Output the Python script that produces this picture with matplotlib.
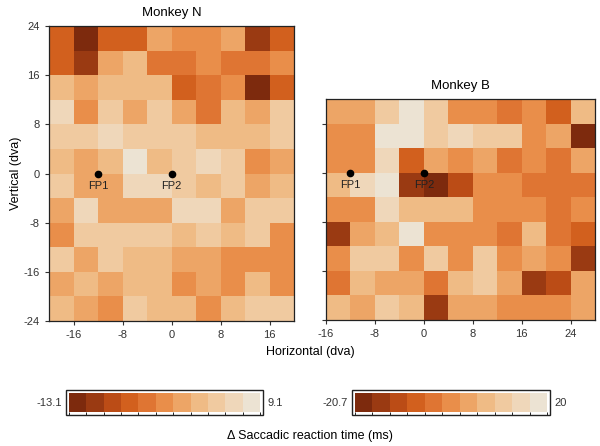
import numpy as np
import matplotlib; matplotlib.use("Agg")
import matplotlib.pyplot as plt
from matplotlib.colors import ListedColormap, BoundaryNorm
from matplotlib.patches import Rectangle

plt.rcParams["font.family"] = ["Liberation Sans", "DejaVu Sans"]
plt.rcParams["axes.unicode_minus"] = False

# --- data: delta saccadic RT (ms), rows from top (y high) to bottom ---
n_x_edges = [-20, -16, -12, -8, -4, 0, 4, 8, 12, 16, 20]
n_y_edges = [24, 20, 16, 12, 8, 4, 0, -4, -8, -12, -16, -20, -24]
n_rt = [
    [-6.2, -12.6, -5.8, -6.4, 0.3, -1.8, -2.2, 0.5, -10.4, -5.9],
    [-6.1, -10.8, -0.1, 2.3, -3.9, -4.2, -1.9, -4.1, -3.6, -2.0],
    [2.1, 0.4, 1.8, 2.2, 2.4, -6.3, -3.8, -1.5, -12.8, -5.7],
    [5.9, -2.3, 4.2, 0.2, 3.9, 0.1, -4.4, 2.0, -0.2, 4.4],
    [3.8, 4.3, 6.2, 4.5, 4.6, 3.9, 2.4, 2.1, 1.7, 4.0],
    [2.2, 0.2, 2.0, 8.4, 2.6, 3.7, 6.4, 4.6, -2.1, 0.6],
    [4.4, -0.3, 0.6, 6.0, 5.8, 3.9, 2.3, 4.0, -0.1, 2.2],
    [-0.2, 6.3, 0.1, 0.4, 0.5, 6.1, 5.9, -0.4, 4.6, 4.3],
    [-2.4, 4.6, 4.2, 3.9, 3.8, 2.0, 4.1, 2.4, 4.8, -2.2],
    [4.5, -0.4, 4.2, 2.3, 2.1, 0.2, 0.4, -1.8, -2.3, -2.1],
    [0.8, 1.7, 0.5, 2.4, 2.2, -2.0, 0.1, -2.4, 1.9, -2.2],
    [2.5, 0.3, -2.5, 4.0, 1.8, 2.1, -1.7, 2.6, 4.4, 4.7],
]
n_range = (-13.1, 9.1)

b_x_edges = [-16, -12, -8, -4, 0, 4, 8, 12, 16, 20, 24, 28]
b_y_edges = [12, 8, 4, 0, -4, -8, -12, -16, -20, -24]
b_rt = [
    [3.1, 3.6, 10.4, 18.2, 11.0, -0.6, -0.2, -4.1, -0.5, -7.9, 6.8],
    [-0.4, -0.1, 18.6, 17.6, 10.6, 14.2, 10.9, 11.8, -0.3, 3.4, -18.4],
    [-0.3, -0.8, 14.8, -7.6, 3.2, 0.4, 3.6, -4.3, -0.4, -3.8, 3.3],
    [7.2, 14.1, 17.9, -15.6, -19.2, -11.6, -0.2, -0.6, -4.2, -3.9, -4.4],
    [-0.5, -0.2, 14.6, 6.8, 7.3, 6.9, -0.4, -0.8, -0.6, -4.0, -0.3],
    [-15.0, 3.2, 7.0, 18.0, -0.3, -0.5, -0.1, -4.2, 7.1, -3.7, -7.6],
    [-0.3, 10.8, 10.5, -0.4, 11.2, -0.6, 10.7, -0.2, 3.3, -0.5, -14.8],
    [-4.1, 7.3, 3.4, 3.0, -4.4, 6.9, 10.9, 3.5, -15.8, -11.7, 3.1],
    [7.0, 3.6, 10.6, 7.2, -15.4, 3.3, 2.9, -0.2, -0.5, -0.7, 3.4],
]
b_range = (-20.7, 20)

fp_x = [-12, 0]
fp_y = [0, 0]
fp_labels = ["FP1", "FP2"]

colors = ["#7d2a0d", "#9a3a12", "#bb4c16", "#d2601e", "#df7533", "#e98e4a",
          "#eda566", "#efbb85", "#f0caa0", "#efd7ba", "#ece3d3"]
cmap = ListedColormap(colors)

W, H = 600, 446
fig = plt.figure(figsize=(6, 4.46), dpi=100)

def px_axes(l, t, r, b):
    return fig.add_axes([l / W, 1 - b / H, (r - l) / W, (b - t) / H])

tick_kw = dict(labelsize=8, labelcolor="#333333", color="#333333",
               length=3, width=0.8, direction="out")

def heatmap(ax, xe, ye, vals, vr):
    norm = BoundaryNorm(np.linspace(vr[0], vr[1], len(colors) + 1), cmap.N)
    ax.pcolormesh(xe, ye, np.array(vals), cmap=cmap, norm=norm)
    ax.plot(fp_x, fp_y, "o", color="black", markersize=4.5)
    for x, y, s in zip(fp_x, fp_y, fp_labels):
        ax.text(x, y - 1.2, s, ha="center", va="top", fontsize=8, color="#222222")
    ax.set_xlim(xe[0], xe[-1])
    ax.set_ylim(min(ye), max(ye))
    ax.tick_params(**tick_kw)
    for s in ax.spines.values():
        s.set_linewidth(0.9)
        s.set_color("#222222")
    return norm

# Monkey N
axn = px_axes(49, 26, 294, 321)
norm_n = heatmap(axn, n_x_edges, n_y_edges, n_rt, n_range)
axn.set_xticks([-16, -8, 0, 8, 16])
axn.set_yticks([-24, -16, -8, 0, 8, 16, 24])
axn.set_title("Monkey N", fontsize=9.5, pad=7)
axn.set_ylabel("Vertical (dva)", fontsize=9, labelpad=1)

# Monkey B
axb = px_axes(326, 99, 595, 320)
norm_b = heatmap(axb, b_x_edges, b_y_edges, b_rt, b_range)
axb.set_xticks([-16, -8, 0, 8, 16, 24])
axb.set_yticks([-24, -16, -8, 0, 8])
axb.set_yticklabels([])
axb.set_title("Monkey B", fontsize=9.5, pad=7)

fig.text(310 / W, 1 - 352 / H, "Horizontal (dva)", ha="center", va="center", fontsize=9)

# colorbars with an outer box
def cbar(l, r, norm, vr, lo_txt, hi_txt):
    t, b = 390, 415
    cax = px_axes(l + 3, t + 3, r - 3, b - 3)
    cb = fig.colorbar(plt.cm.ScalarMappable(norm=norm, cmap=cmap), cax=cax,
                      orientation="horizontal")
    cb.set_ticks([])
    cb.outline.set_visible(False)
    fig.add_artist(Rectangle((l / W, 1 - b / H), (r - l) / W, (b - t) / H,
                             transform=fig.transFigure, fill=False,
                             edgecolor="#222222", linewidth=1.0))
    yc = 1 - (t + b) / 2 / H
    fig.text((l - 4) / W, yc, lo_txt, ha="right", va="center", fontsize=8, color="#333333")
    fig.text((r + 4) / W, yc, hi_txt, ha="left", va="center", fontsize=8, color="#333333")

cbar(66, 263, norm_n, n_range, "-13.1", "9.1")
cbar(352, 550, norm_b, b_range, "-20.7", "20")

fig.text(310 / W, 1 - 436 / H, "\u0394 Saccadic reaction time (ms)", ha="center",
         va="center", fontsize=9)

fig.savefig("out.png", dpi=100, facecolor="white")
